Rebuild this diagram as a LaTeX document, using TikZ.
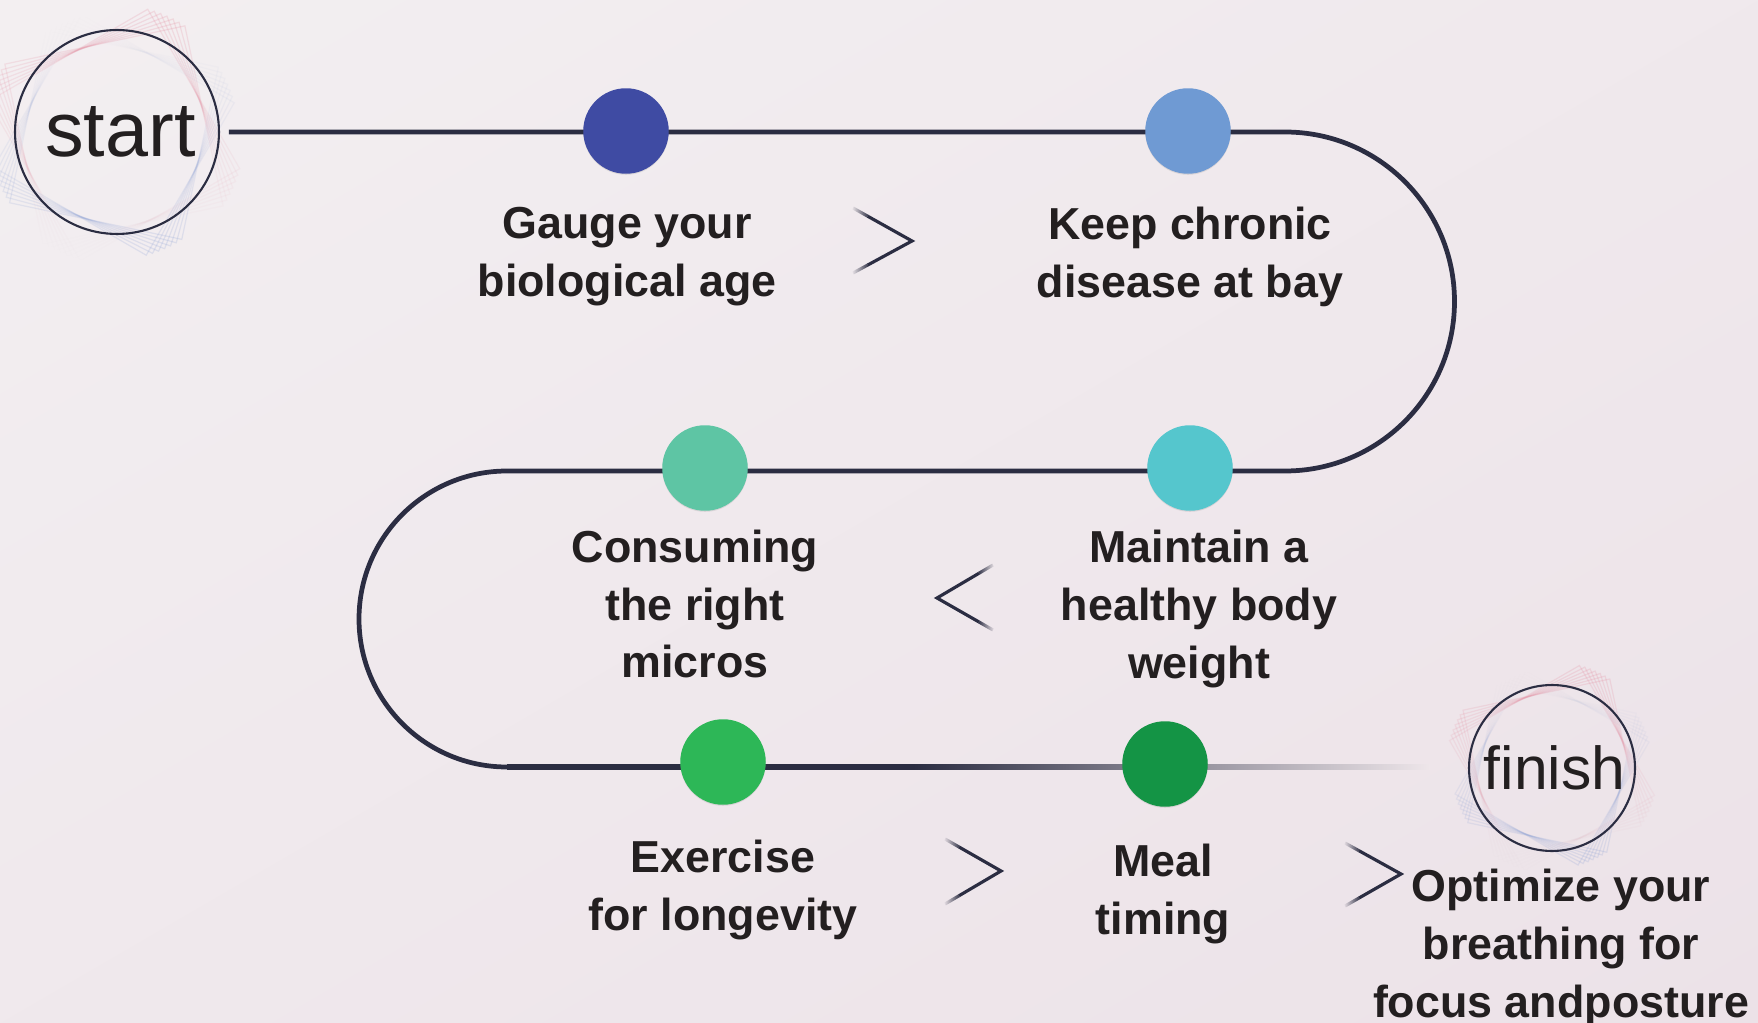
\documentclass[tikz,border=0pt]{standalone}
\usepackage{fontspec}
\setmainfont{Liberation Sans}
\usetikzlibrary{shadows,fadings,shadings}

\definecolor{navy}{HTML}{2B2D42}
\definecolor{ink}{HTML}{231F20}
\definecolor{bgA}{HTML}{F3EFF1}
\definecolor{bgB}{HTML}{ECE2E8}
\definecolor{bgfade}{HTML}{EEE6EA}
\definecolor{dotA}{HTML}{3F4BA3}
\definecolor{dotB}{HTML}{6F9AD3}
\definecolor{dotC}{HTML}{5EC5A4}
\definecolor{dotD}{HTML}{55C6CD}
\definecolor{dotE}{HTML}{2DB757}
\definecolor{dotF}{HTML}{149445}
\definecolor{ribbonpink}{HTML}{E48A9E}
\definecolor{ribbonblue}{HTML}{8FA3D6}

\pgfdeclarehorizontalshading{trackfade}{100bp}{color(0bp)=(navy); color(25bp)=(navy);
  color(47bp)=(navy); color(75bp)=(bgfade); color(100bp)=(bgfade)}

\tikzfading[name=chevL, left color=transparent!100, right color=transparent!0]
\tikzfading[name=chevR, left color=transparent!0, right color=transparent!100]
\tikzfading[name=fadedown, top color=transparent!0, bottom color=transparent!100]
\tikzfading[name=fadeup, top color=transparent!100, bottom color=transparent!0]

\begin{document}
\begin{tikzpicture}[x=0.02cm,y=-0.02cm,
    dotnode/.style={circle,minimum size=1.71cm,inner sep=0pt,
      drop shadow={shadow xshift=0pt,shadow yshift=-0.6pt,opacity=0.2}},
    tag/.style={align=center,text=ink,font=\bfseries\fontsize{25.5}{33}\selectfont},
    ring/.style={circle,draw=navy,line width=1.2pt,inner sep=0pt,text=ink},
    track/.style={draw=navy,line width=2.7pt},
    chev/.style={draw=navy,line width=1.8pt},
    pinkband/.style={draw=ribbonpink,line width=0.7pt,draw opacity=0.22,path fading=fadedown},
    blueband/.style={draw=ribbonblue,line width=0.7pt,draw opacity=0.22,path fading=fadeup}]

	\shade[upper left=bgA,upper right=bgA!50!bgB,lower left=bgA!50!bgB,lower right=bgB] (0,0) rectangle (1758,1023);
	\useasboundingbox (0,0) rectangle (1758,1023);

	% ribbons round start and finish
	\foreach \a in {12,15,...,30} {
		\draw[pinkband,rotate around={\a:(114,135)}] (22,43) rectangle (206,227);
		\draw[blueband,rotate around={-\a:(114,135)}] (26,47) rectangle (202,223);
		\draw[pinkband,rotate around={\a:(1552,768)}] (1477,693) rectangle (1627,843);
		\draw[blueband,rotate around={-\a:(1552,768)}] (1481,697) rectangle (1623,839);
	}

	\node (start) at (117,132) [ring,minimum size=4.08cm,font=\fontsize{44}{44}\selectfont] {\hspace{4pt}start};
	\node (finish) at (1552,768) [ring,minimum size=3.32cm,font=\fontsize{34.5}{34.5}\selectfont] {\hspace{3pt}finish};

	\coordinate (r1) at (1285,132);
	\coordinate (l1) at (507,471);
	\coordinate (l2) at (507,767);
	\coordinate (fadeB) at (1430,767);

	\draw[track,shorten <=5pt] (start) -- (r1) arc[start angle=-90,end angle=90,radius=169.5]
		-- (l1) arc[start angle=-90,end angle=-270,radius=148] -- ++(60,0);
	\shade[shading=trackfade] ([yshift=-1.35pt]l2) rectangle ([yshift=1.35pt]fadeB);

	\node (d1) at (626,131) [dotnode,fill=dotA] {};
	\node (d2) at (1188,131) [dotnode,fill=dotB] {};
	\node (d3) at (705,468) [dotnode,fill=dotC] {};
	\node (d4) at (1190,468) [dotnode,fill=dotD] {};
	\node (d5) at (723,762) [dotnode,fill=dotE] {};
	\node (d6) at (1165,764) [dotnode,fill=dotF] {};

	\node (t1) at (627,257) [tag] {Gauge your\\biological age};
	\node (t2) at (1190,257) [tag] {Keep chronic\\disease at bay};
	\node (t3) at (695,604) [tag] {Consuming\\the right\\micros};
	\node (t4) at (1199,609) [tag] {Maintain a\\healthy body\\weight};
	\node (t5) at (723,890) [tag] {Exercise\\for longevity};
	\node (t6) at (1163,894) [tag] {Meal\\timing};
	\node (t7) at (1561,948) [tag] {Optimize your\\breathing for\\focus andposture};

	% chevrons between the steps, open ends fading out
	\draw[chev] (867.75,216.25) -- (912,241) -- (867.75,265);
	\draw[chev,path fading=chevL] (853,208) -- (867.75,216.25);
	\draw[chev,path fading=chevL] (853,273) -- (867.75,265);

	\draw[chev] (979,573.25) -- (937,598) -- (979,622);
	\draw[chev,path fading=chevR] (979,573.25) -- (993,565);
	\draw[chev,path fading=chevR] (979,622) -- (993,630);

	\draw[chev] (959,847) -- (1001,871) -- (959,895.75);
	\draw[chev,path fading=chevL] (945,839) -- (959,847);
	\draw[chev,path fading=chevL] (945,904) -- (959,895.75);

	\draw[chev] (1359,850.75) -- (1401,874) -- (1359,898);
	\draw[chev,path fading=chevL] (1345,843) -- (1359,850.75);
	\draw[chev,path fading=chevL] (1345,906) -- (1359,898);
\end{tikzpicture}
\end{document}
